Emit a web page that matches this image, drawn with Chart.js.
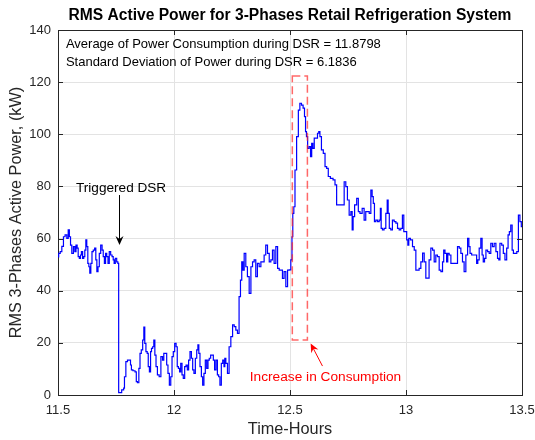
<!DOCTYPE html>
<html>
<head>
<meta charset="utf-8">
<title>RMS Active Power - 3 Phases Retail Refrigeration</title>
<script src="https://cdn.jsdelivr.net/npm/chart.js@4.4.1/dist/chart.umd.min.js"></script>
<style>
  html, body { margin: 0; padding: 0; background: #fff; }
</style>
</head>
<body>
<canvas id="chart" width="535" height="440"></canvas>
<script>
// =========================
// DATA
// =========================
const timeHours = [
  11.500, 11.506, 11.513, 11.520, 11.527, 11.534, 11.542, 11.546, 11.552, 11.556,
  11.563, 11.570, 11.575, 11.580, 11.585, 11.589, 11.595, 11.599, 11.603, 11.609,
  11.613, 11.618, 11.622, 11.626, 11.631, 11.635, 11.639, 11.644, 11.649, 11.655,
  11.661, 11.665, 11.670, 11.675, 11.681, 11.687, 11.693, 11.697, 11.703, 11.707,
  11.713, 11.718, 11.724, 11.730, 11.736, 11.740, 11.744, 11.750, 11.756, 11.760,
  11.763, 11.767, 11.782, 11.784, 11.789, 11.796, 11.803, 11.810, 11.815, 11.818,
  11.828, 11.836, 11.839, 11.846, 11.851, 11.856, 11.862, 11.868, 11.872, 11.876,
  11.882, 11.887, 11.891, 11.897, 11.901, 11.905, 11.911, 11.915, 11.920, 11.925,
  11.932, 11.940, 11.947, 11.954, 11.958, 11.966, 11.971, 11.977, 11.983, 11.989,
  11.994, 12.000, 12.006, 12.012, 12.016, 12.022, 12.026, 12.032, 12.037, 12.043,
  12.049, 12.055, 12.060, 12.066, 12.072, 12.078, 12.083, 12.089, 12.095, 12.101,
  12.105, 12.109, 12.115, 12.121, 12.126, 12.132, 12.138, 12.144, 12.149, 12.155,
  12.161, 12.167, 12.172, 12.178, 12.184, 12.190, 12.195, 12.201, 12.207, 12.213,
  12.218, 12.220, 12.227, 12.234, 12.241, 12.249, 12.256, 12.263, 12.270, 12.277,
  12.284, 12.289, 12.295, 12.299, 12.306, 12.313, 12.320, 12.328, 12.335, 12.342,
  12.349, 12.356, 12.363, 12.371, 12.378, 12.385, 12.392, 12.399, 12.407, 12.414,
  12.421, 12.428, 12.435, 12.443, 12.450, 12.457, 12.464, 12.471, 12.478, 12.486,
  12.493, 12.500, 12.507, 12.510, 12.514, 12.519, 12.524, 12.533, 12.539, 12.546,
  12.553, 12.560, 12.565, 12.569, 12.573, 12.579, 12.586, 12.591, 12.596, 12.601,
  12.608, 12.615, 12.622, 12.626, 12.632, 12.639, 12.648, 12.654, 12.662, 12.668,
  12.680, 12.691, 12.697, 12.705, 12.716, 12.730, 12.737, 12.744, 12.751, 12.759,
  12.766, 12.770, 12.774, 12.783, 12.792, 12.797, 12.806, 12.816, 12.823, 12.830,
  12.838, 12.845, 12.852, 12.856, 12.862, 12.866, 12.874, 12.881, 12.888, 12.891,
  12.895, 12.902, 12.909, 12.917, 12.921, 12.925, 12.931, 12.938, 12.945, 12.953,
  12.960, 12.967, 12.974, 12.981, 12.988, 12.993, 13.000, 13.006, 13.010, 13.014,
  13.024, 13.032, 13.039, 13.046, 13.053, 13.060, 13.068, 13.075, 13.082, 13.089,
  13.096, 13.103, 13.111, 13.118, 13.125, 13.132, 13.139, 13.147, 13.154, 13.161,
  13.164, 13.172, 13.178, 13.182, 13.190, 13.197, 13.204, 13.211, 13.218, 13.226,
  13.233, 13.240, 13.247, 13.254, 13.262, 13.269, 13.273, 13.279, 13.287, 13.293,
  13.302, 13.307, 13.312, 13.319, 13.326, 13.330, 13.336, 13.341, 13.348, 13.355,
  13.362, 13.369, 13.376, 13.384, 13.391, 13.398, 13.402, 13.408, 13.417, 13.422,
  13.431, 13.437, 13.443, 13.448, 13.455, 13.460, 13.466, 13.474, 13.481, 13.488,
  13.494, 13.500
];

const powerKW = [
  53.0, 54.3, 55.0, 57.0, 60.7, 61.4, 60.1, 63.3, 60.7, 57.5,
  54.3, 56.9, 55.0, 57.5, 56.3, 53.1, 52.4, 53.7, 55.0, 52.4,
  53.1, 55.6, 59.5, 56.9, 50.5, 49.2, 46.7, 50.5, 55.0, 55.6,
  56.3, 51.8, 47.3, 49.2, 54.3, 57.5, 55.6, 53.1, 50.5, 54.3,
  53.1, 50.5, 55.0, 53.7, 53.1, 51.8, 50.5, 52.4, 51.1, 50.5,
  0.9, 0.9, 2.0, 2.6, 7.0, 12.8, 13.4, 13.4, 11.5, 9.6,
  9.3, 8.9, 5.1, 4.7, 10.2, 16.0, 17.3, 21.1, 26.0, 19.8,
  16.6, 16.0, 10.9, 8.9, 16.6, 17.9, 18.5, 21.1, 15.3, 10.9,
  7.7, 7.0, 14.7, 13.4, 16.0, 16.0, 11.5, 8.3, 3.8, 7.0,
  14.7, 16.6, 19.8, 18.5, 10.9, 10.2, 8.9, 12.1, 7.7, 6.4,
  10.9, 11.5, 9.6, 13.4, 16.6, 14.1, 9.6, 8.3, 14.1, 17.3,
  19.2, 16.0, 10.9, 7.0, 3.8, 8.3, 13.4, 10.2, 13.4, 14.1,
  15.3, 15.3, 13.4, 9.6, 13.4, 7.7, 7.0, 3.8, 12.1, 13.4,
  10.9, 14.1, 12.1, 8.3, 18.5, 22.4, 26.9, 26.2, 24.9, 23.6,
  37.7, 44.1, 51.1, 47.9, 54.3, 49.2, 45.4, 39.0, 49.2, 51.1,
  51.8, 45.4, 50.5, 49.2, 51.1, 51.1, 53.7, 57.5, 54.3, 51.1,
  51.8, 55.6, 50.5, 56.9, 48.6, 47.9, 47.9, 44.7, 47.3, 41.6,
  47.9, 48.0, 51.8, 60.7, 69.7, 72.2, 86.3, 99.1, 109.3, 111.9,
  111.2, 110.0, 106.8, 101.0, 99.1, 94.6, 95.3, 91.4, 96.5, 94.6,
  98.5, 98.5, 100.4, 101.0, 99.1, 94.0, 92.7, 87.6, 86.9, 83.8,
  83.1, 82.5, 80.6, 72.9, 72.9, 72.9, 81.8, 79.9, 74.8, 69.0,
  70.3, 63.3, 68.4, 72.9, 75.4, 70.3, 69.7, 71.6, 67.1, 70.3,
  70.3, 69.7, 78.6, 76.1, 73.5, 66.5, 67.1, 66.5, 67.1, 71.6,
  63.9, 63.3, 63.9, 69.7, 74.8, 69.7, 63.9, 63.3, 67.1, 66.5,
  65.9, 63.9, 63.3, 63.9, 69.0, 62.7, 62.7, 59.5, 57.5, 60.1,
  59.5, 56.9, 55.6, 47.9, 47.9, 48.6, 51.1, 54.4, 51.1, 44.8,
  44.8, 51.8, 56.3, 55.6, 51.1, 53.7, 53.1, 47.9, 47.3, 51.1,
  55.6, 54.3, 51.1, 54.3, 53.7, 50.5, 50.5, 50.5, 50.5, 56.9,
  56.3, 54.3, 51.1, 47.3, 53.7, 60.1, 56.9, 54.3, 53.7, 53.7,
  53.7, 50.5, 51.8, 56.3, 60.1, 53.7, 51.1, 52.4, 55.6, 55.0,
  54.3, 58.2, 56.9, 58.2, 55.0, 52.4, 51.8, 58.2, 57.5, 54.3,
  51.8, 56.3, 61.4, 62.7, 65.2, 55.6, 54.3, 54.3, 55.0, 69.0,
  66.5, 64.6
];

const xTicks = [11.5, 12, 12.5, 13, 13.5];
const yTicks = [0, 20, 40, 60, 80, 100, 120, 140];

const chartTitle = "RMS Active Power for 3-Phases Retail Refrigeration System";
const xLabel = "Time-Hours";
const yLabel = "RMS 3-Phases Active Power, (kW)";
const statLines = [
  "Average of Power Consumption during DSR = 11.8798",
  "Standard Deviation of Power during DSR = 6.1836"
];

// annotations in data units (hours, kW)
const statsAnchor = { x: 11.534, y: 134.3, step: 6.9 };
const dsrLabel = { text: "Triggered DSR", x: 11.772, y: 79.4 };
const dsrArrow = { x: 11.763, from: 76.7, to: 57.5 };
const riseBox = { x0: 12.510, x1: 12.575, y0: 21.1, y1: 122.4 };
const riseLabel = { text: "Increase in Consumption", x: 12.653, y: 6.9 };
const riseArrow = { x0: 12.640, y0: 11.1, x1: 12.589, y1: 19.8 };

const FONT = "'Liberation Sans', Arial, Helvetica, sans-serif";
const TEXT_COLOR = '#262626';

// =========================
// ANNOTATION PLUGIN
// =========================
function drawArrowHead(ctx, tipX, tipY, fromX, fromY, color) {
    const ang = Math.atan2(tipY - fromY, tipX - fromX);
    const len = 9, half = 4, back = 6;
    ctx.save();
    ctx.translate(tipX, tipY);
    ctx.rotate(ang);
    ctx.fillStyle = color;
    ctx.beginPath();
    ctx.moveTo(0, 0);
    ctx.lineTo(-len, -half);
    ctx.lineTo(-back, 0);
    ctx.lineTo(-len, half);
    ctx.closePath();
    ctx.fill();
    ctx.restore();
}

const overlay = {
    id: 'overlay',
    afterDraw(chart) {
        const { ctx, chartArea: a, scales: { x, y } } = chart;
        ctx.save();

        // box (top/right) + inward tick marks
        ctx.strokeStyle = TEXT_COLOR;
        ctx.lineWidth = 1;
        ctx.beginPath();
        ctx.moveTo(a.left, a.top + 0.5);
        ctx.lineTo(a.right + 0.5, a.top + 0.5);
        ctx.lineTo(a.right + 0.5, a.bottom);
        ctx.stroke();
        ctx.beginPath();
        xTicks.forEach(v => {
            const px = Math.round(x.getPixelForValue(v)) + 0.5;
            ctx.moveTo(px, a.bottom); ctx.lineTo(px, a.bottom - 5);
            ctx.moveTo(px, a.top); ctx.lineTo(px, a.top + 5);
        });
        yTicks.forEach(v => {
            const py = Math.round(y.getPixelForValue(v)) + 0.5;
            ctx.moveTo(a.left, py); ctx.lineTo(a.left + 5, py);
            ctx.moveTo(a.right, py); ctx.lineTo(a.right - 5, py);
        });
        ctx.stroke();

        // stats text
        ctx.fillStyle = '#000';
        ctx.font = `13px ${FONT}`;
        ctx.textAlign = 'left';
        ctx.textBaseline = 'middle';
        statLines.forEach((t, i) => {
            ctx.fillText(t, x.getPixelForValue(statsAnchor.x), y.getPixelForValue(statsAnchor.y - i * statsAnchor.step));
        });

        // triggered DSR
        ctx.textAlign = 'center';
        ctx.font = `13.6px ${FONT}`;
        ctx.fillText(dsrLabel.text, x.getPixelForValue(dsrLabel.x), y.getPixelForValue(dsrLabel.y));
        const ax = Math.round(x.getPixelForValue(dsrArrow.x)) + 0.5;
        const ay0 = y.getPixelForValue(dsrArrow.from);
        const ay1 = y.getPixelForValue(dsrArrow.to);
        ctx.strokeStyle = '#000';
        ctx.beginPath();
        ctx.moveTo(ax, ay0);
        ctx.lineTo(ax, ay1 - 4);
        ctx.stroke();
        drawArrowHead(ctx, ax, ay1, ax, ay0, '#000');

        // dashed box round the rise
        const bx0 = x.getPixelForValue(riseBox.x0), bx1 = x.getPixelForValue(riseBox.x1);
        const by0 = y.getPixelForValue(riseBox.y0), by1 = y.getPixelForValue(riseBox.y1);
        ctx.strokeStyle = 'rgba(255, 40, 40, 0.7)';
        ctx.lineWidth = 1.5;
        ctx.setLineDash([8, 4]);
        ctx.strokeRect(bx0, by1, bx1 - bx0, by0 - by1);
        ctx.setLineDash([]);

        // increase in consumption
        ctx.fillStyle = '#ff0000';
        ctx.font = `13.7px ${FONT}`;
        ctx.fillText(riseLabel.text, x.getPixelForValue(riseLabel.x), y.getPixelForValue(riseLabel.y));
        const rx0 = x.getPixelForValue(riseArrow.x0), ry0 = y.getPixelForValue(riseArrow.y0);
        const rx1 = x.getPixelForValue(riseArrow.x1), ry1 = y.getPixelForValue(riseArrow.y1);
        ctx.strokeStyle = '#ff0000';
        ctx.lineWidth = 1;
        ctx.beginPath();
        ctx.moveTo(rx0, ry0);
        ctx.lineTo(rx1 + (rx0 - rx1) * 0.2, ry1 + (ry0 - ry1) * 0.2);
        ctx.stroke();
        drawArrowHead(ctx, rx1, ry1, rx0, ry0, '#ff0000');

        // title and axis labels
        const cx = (a.left + a.right) / 2;
        const cy = (a.top + a.bottom) / 2;
        ctx.fillStyle = '#000';
        ctx.font = `bold 15.6px ${FONT}`;
        ctx.fillText(chartTitle, cx, 16);
        ctx.fillStyle = TEXT_COLOR;
        ctx.font = `16.3px ${FONT}`;
        ctx.fillText(xLabel, cx, 430);
        ctx.translate(17, cy);
        ctx.rotate(-Math.PI / 2);
        ctx.fillText(yLabel, 0, 0);

        ctx.restore();
    }
};

// =========================
// CHART
// =========================
const ctx = document.getElementById('chart');

new Chart(ctx, {
    type: 'line',
    data: {
        datasets: [{
            data: timeHours.map((t, i) => ({ x: t, y: powerKW[i] })),
            borderColor: '#0000ff',
            borderWidth: 1.2,
            pointRadius: 0,
            stepped: 'middle',
            fill: false
        }]
    },
    options: {
        responsive: false,
        animation: false,
        devicePixelRatio: 1,
        layout: { padding: { top: 30, right: 13, left: 0, bottom: 0 } },
        plugins: {
            legend: { display: false },
            tooltip: { enabled: false }
        },
        scales: {
            x: {
                type: 'linear',
                min: 11.5,
                max: 13.5,
                afterBuildTicks: s => { s.ticks = xTicks.map(v => ({ value: v })); },
                afterFit: s => { s.height = 45; s.paddingLeft = 0; s.paddingRight = 0; },
                grid: { color: '#e3e3e3', drawTicks: false },
                border: { color: TEXT_COLOR },
                ticks: {
                    padding: 8,
                    color: TEXT_COLOR,
                    maxRotation: 0,
                    autoSkip: false,
                    font: { family: FONT, size: 13 },
                    callback: v => String(v)
                }
            },
            y: {
                min: 0,
                max: 140,
                afterBuildTicks: s => { s.ticks = yTicks.map(v => ({ value: v })); },
                afterFit: s => { s.width = 58; s.paddingTop = 0; s.paddingBottom = 0; },
                grid: { color: '#e3e3e3', drawTicks: false },
                border: { color: TEXT_COLOR },
                ticks: {
                    padding: 7,
                    color: TEXT_COLOR,
                    font: { family: FONT, size: 13 },
                    callback: v => String(v)
                }
            }
        }
    },
    plugins: [overlay]
});
</script>
</body>
</html>
